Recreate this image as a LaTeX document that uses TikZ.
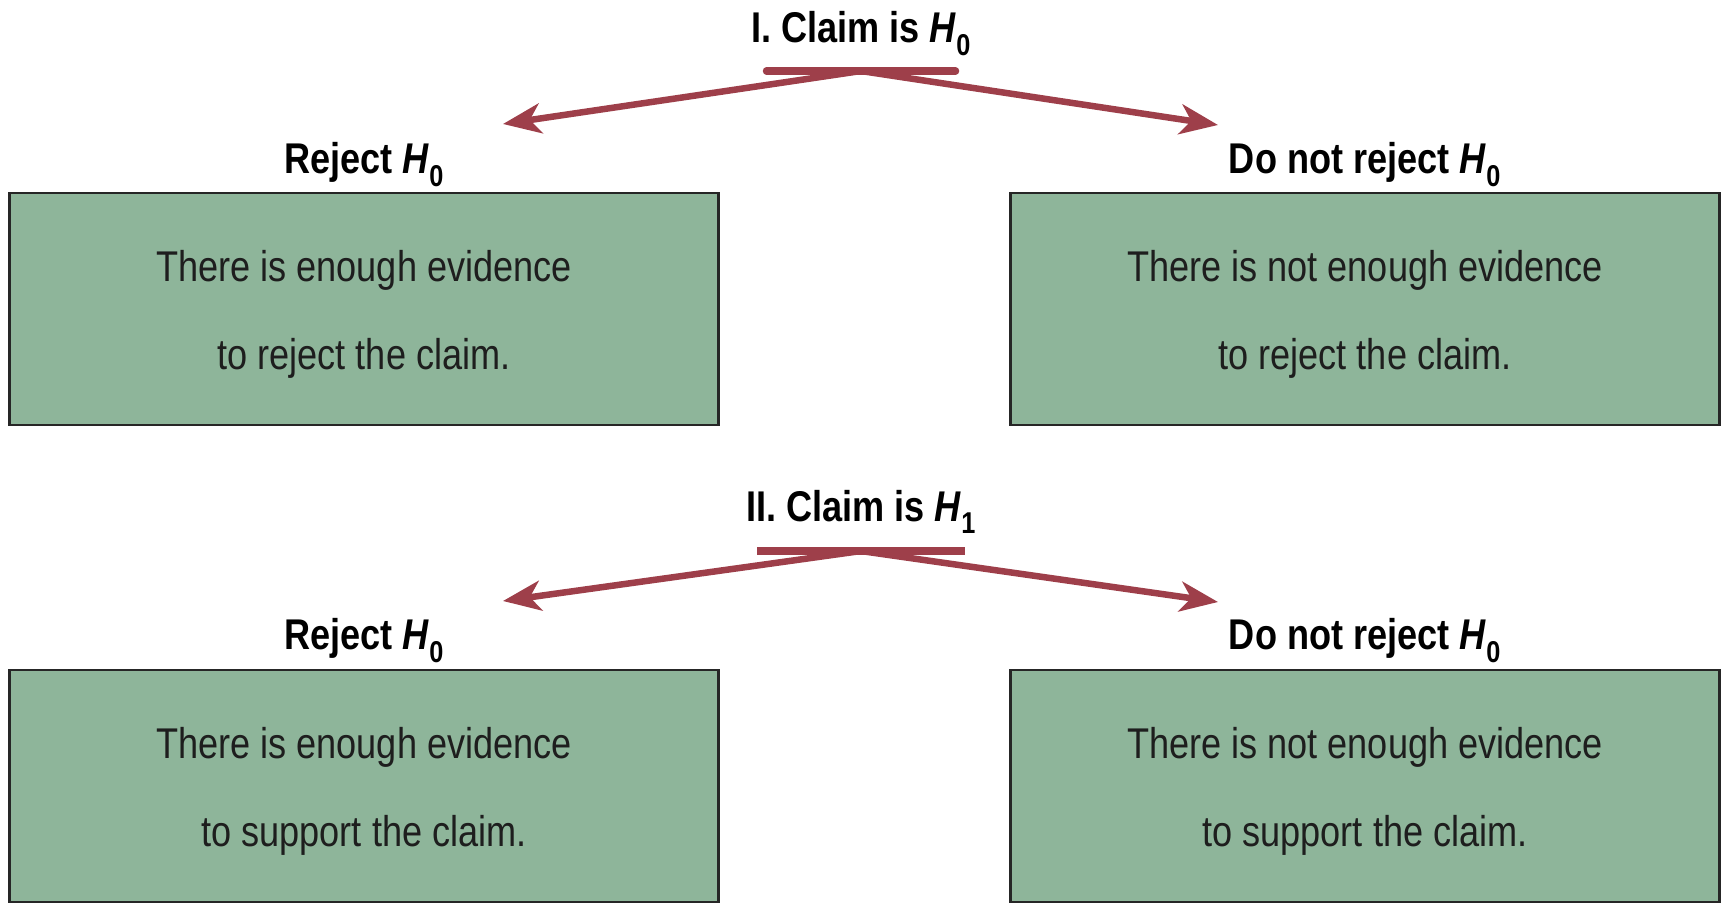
\documentclass[tikz,border=0pt]{standalone}
\usepackage{fontspec}
\setmainfont{Liberation Sans}[FakeStretch=0.84]
\usetikzlibrary{positioning,arrows.meta}

\definecolor{boxgreen}{HTML}{8EB59A}
\definecolor{arrowred}{HTML}{9E3F4A}
\definecolor{textgray}{HTML}{1E1E1E}
\newcommand{\boxstrut}{\rule{0pt}{42pt}}

\begin{document}
\begin{tikzpicture}[x=1pt, y=1pt,
    box/.style={draw=black!85, line width=2.5pt, fill=boxgreen,
        minimum width=709pt, minimum height=232pt, inner sep=0pt,
        align=center, text=textgray, font=\fontsize{43}{88}\selectfont},
    lbl/.style={font=\fontsize{43}{50}\selectfont\bfseries, inner sep=0pt},
    bar/.style={draw=arrowred, line width=7.5pt},
    arr/.style={draw=arrowred, line width=6.5pt,
        -{Stealth[length=38pt, width=30pt, inset=11pt]}}]
\useasboundingbox (0,0) rectangle (1721,-907);

% I. claim is H0
\node[lbl, anchor=base] (claim1) at (861,-43) {I. Claim is \textit{H}\textsubscript{0}};
\coordinate (fork1) at (861,-71);
\coordinate (tipL1) at (503,-124);
\coordinate (tipR1) at (1218,-125);
\draw[bar, line cap=round] ([xshift=-94.5pt]fork1) -- ([xshift=94.5pt]fork1);
\draw[arr] (fork1) -- (tipL1);
\draw[arr] (fork1) -- (tipR1);

\node[box] (box1) at (364,-309) {\boxstrut There is enough evidence\\to reject the claim.};
\node[box] (box2) at (1365,-309) {\boxstrut There is not enough evidence\\to reject the claim.};
\node[lbl, above=18pt of box1.north, anchor=base] (rej1) {Reject \textit{H}\textsubscript{0}};
\node[lbl, above=18pt of box2.north, anchor=base] (norej1) {Do not reject \textit{H}\textsubscript{0}};

% II. claim is H1
\node[lbl, anchor=base] (claim2) at (861,-521) {II. Claim is \textit{H}\textsubscript{1}};
\coordinate (fork2) at (861,-551);
\coordinate (tipL2) at (503,-601);
\coordinate (tipR2) at (1218,-602);
\draw[bar] ([xshift=-104pt]fork2) -- ([xshift=104pt]fork2);
\draw[arr] (fork2) -- (tipL2);
\draw[arr] (fork2) -- (tipR2);

\node[box] (box3) at (364,-786) {\boxstrut There is enough evidence\\to support the claim.};
\node[box] (box4) at (1365,-786) {\boxstrut There is not enough evidence\\to support the claim.};
\node[lbl, above=19pt of box3.north, anchor=base] (rej2) {Reject \textit{H}\textsubscript{0}};
\node[lbl, above=19pt of box4.north, anchor=base] (norej2) {Do not reject \textit{H}\textsubscript{0}};

\end{tikzpicture}
\end{document}
